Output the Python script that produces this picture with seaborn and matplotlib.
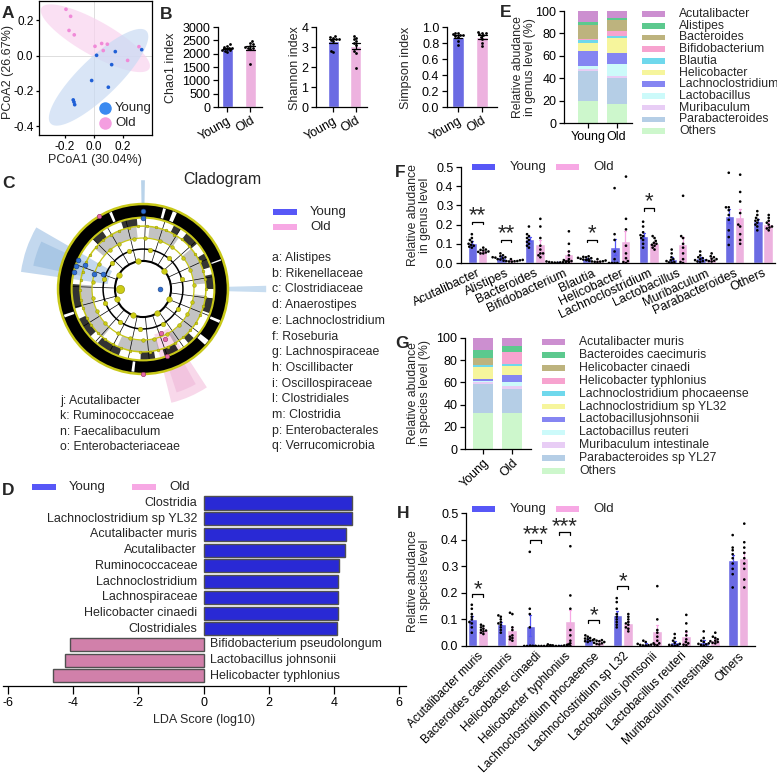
import warnings
import numpy as np
import pandas as pd
import matplotlib
matplotlib.use("Agg")
import matplotlib.pyplot as plt
from matplotlib.patches import Rectangle, Wedge, Circle
import seaborn as sns

warnings.filterwarnings("ignore")

OUT_PATH = "out.png"
W, H = 777, 779

GROUPS = ["Young", "Old"]
BAR_COLORS = ["#5757f7", "#f7a8e4"]

# A: PCoA
pcoa_young_x = [0.018, 0.147, 0.329, 0.122, -0.016, 0.099, -0.143, -0.138, -0.133]
pcoa_young_y = [0.002, 0.023, 0.034, -0.051, -0.141, -0.179, -0.251, -0.263, -0.278]
pcoa_old_x = [-0.193, -0.161, -0.172, -0.136, 0.007, 0.053, 0.092, 0.064, 0.232, 0.31]
pcoa_old_y = [0.263, 0.223, 0.143, 0.118, 0.053, 0.069, 0.065, 0.029, -0.027, 0.051]

# B: alpha diversity
chao_young = [2350, 2300, 2250, 2230, 2200, 2180, 2150, 2120, 2100, 2080]
chao_old = [2480, 2400, 2350, 2300, 2250, 2220, 2200, 2180, 1600]
shannon_young = [3.57, 3.5, 3.45, 3.4, 3.38, 3.35, 3.3, 2.8, 2.75]
shannon_old = [3.55, 3.45, 3.4, 3.3, 3.2, 3.1, 2.8, 2.7, 1.95]
simpson_young = [0.93, 0.92, 0.91, 0.9, 0.9, 0.89, 0.88, 0.82, 0.78]
simpson_old = [0.94, 0.93, 0.92, 0.91, 0.9, 0.88, 0.85, 0.8, 0.76]

# E / G: stacked composition (top of stack first)
stack_colors = ["#cc8fd0", "#5cc98e", "#bdb37e", "#f7a3cf", "#6fd8ec", "#f6f59c",
                "#8585f2", "#ccfafa", "#e8cdf5", "#b5cee6", "#cdf7cc"]
genus_stack_names = ["Acutalibacter", "Alistipes", "Bacteroides", "Bifidobacterium", "Blautia",
                     "Helicobacter", "Lachnoclostridium", "Lactobacillus", "Muribaculum",
                     "Parabacteroides", "Others"]
genus_stack_young = [9.9, 3.0, 12.5, 0.6, 2.5, 7.0, 14.0, 2.0, 2.5, 26.0, 20.0]
genus_stack_old = [5.7, 2.3, 10.0, 4.0, 1.6, 13.4, 10.0, 10.5, 2.0, 23.0, 17.3]
species_stack_names = ["Acutalibacter muris", "Bacteroides caecimuris", "Helicobacter cinaedi",
                       "Helicobacter typhlonius", "Lachnoclostridium phocaeense",
                       "Lachnoclostridium sp YL32", "Lactobacillusjohnsonii", "Lactobacillus reuteri",
                       "Muribaculum intestinale", "Parabacteroides sp YL27", "Others"]
species_stack_young = [10.2, 7.6, 6.3, 0.3, 1.8, 10.8, 1.2, 0.9, 2.4, 25.6, 32.7]
species_stack_old = [6.9, 5.7, 0.1, 10.5, 1.9, 8.6, 6.0, 3.9, 2.5, 21.9, 32.1]

# F: genus level per mouse
genus_names = ["Acutalibacter", "Alistipes", "Bacteroides", "Bifidobacterium", "Blautia",
               "Helicobacter", "Lachnoclostridium", "Lactobacillus", "Muribaculum",
               "Parabacteroides", "Others"]
genus_young = [
    [0.15, 0.13, 0.12, 0.11, 0.10, 0.095, 0.09, 0.085, 0.08],
    [0.05, 0.04, 0.035, 0.03, 0.03, 0.028, 0.025, 0.02, 0.018],
    [0.19, 0.15, 0.14, 0.13, 0.12, 0.11, 0.10, 0.09, 0.08],
    [0.01, 0.008, 0.006, 0.005, 0.004, 0.003, 0.003, 0.002, 0.002],
    [0.035, 0.032, 0.03, 0.027, 0.025, 0.022, 0.02, 0.018, 0.016],
    [0.39, 0.15, 0.12, 0.06, 0.02, 0.0, 0.0, 0.0, 0.0],
    [0.215, 0.19, 0.16, 0.145, 0.14, 0.13, 0.12, 0.10, 0.08],
    [0.07, 0.05, 0.03, 0.02, 0.015, 0.01, 0.005, 0.003, 0.002],
    [0.06, 0.04, 0.03, 0.025, 0.02, 0.015, 0.01, 0.008, 0.006],
    [0.47, 0.29, 0.29, 0.275, 0.225, 0.17, 0.135, 0.094, 0.25],
    [0.27, 0.25, 0.235, 0.225, 0.22, 0.21, 0.2, 0.19, 0.17],
]
genus_old = [
    [0.08, 0.07, 0.068, 0.065, 0.06, 0.058, 0.055, 0.05, 0.05],
    [0.02, 0.016, 0.014, 0.012, 0.01, 0.01, 0.009, 0.008, 0.007],
    [0.23, 0.19, 0.13, 0.09, 0.07, 0.05, 0.04, 0.03, 0.05],
    [0.165, 0.1, 0.06, 0.04, 0.02, 0.015, 0.01, 0.008, 0.005],
    [0.02, 0.015, 0.013, 0.011, 0.009, 0.008, 0.007, 0.006, 0.005],
    [0.45, 0.23, 0.175, 0.09, 0.05, 0.025, 0.01, 0.005, 0.0],
    [0.14, 0.13, 0.115, 0.105, 0.1, 0.095, 0.09, 0.08, 0.07],
    [0.35, 0.14, 0.13, 0.1, 0.08, 0.05, 0.02, 0.005, 0.0],
    [0.05, 0.035, 0.03, 0.022, 0.02, 0.015, 0.012, 0.01, 0.008],
    [0.46, 0.37, 0.32, 0.26, 0.2, 0.15, 0.12, 0.1, 0.19],
    [0.25, 0.235, 0.22, 0.21, 0.2, 0.19, 0.185, 0.18, 0.17],
]
genus_sig = [(0, 0.215, "**"), (1, 0.12, "**"), (4, 0.12, "*"), (6, 0.285, "*")]

# H: species level per mouse
species_names = ["Acutalibacter muris", "Bacteroides caecimuris", "Helicobacter cinaedi",
                 "Helicobacter typhlonius", "Lachnoclostridium phocaeense",
                 "Lachnoclostridium sp L32", "Lactobacillus johnsonii", "Lactobacillus reuteri",
                 "Muribaculum intestinale", "Others"]
species_young = [
    [0.155, 0.14, 0.12, 0.11, 0.1, 0.09, 0.085, 0.07, 0.05],
    [0.115, 0.11, 0.1, 0.09, 0.085, 0.08, 0.07, 0.06, 0.05],
    [0.354, 0.14, 0.12, 0.07, 0.0, 0.0, 0.0, 0.0, 0.0],
    [0.008, 0.006, 0.004, 0.003, 0.002, 0.001, 0.0, 0.0, 0.0],
    [0.04, 0.035, 0.03, 0.028, 0.025, 0.022, 0.02, 0.018, 0.015],
    [0.18, 0.165, 0.14, 0.12, 0.11, 0.1, 0.09, 0.08, 0.07],
    [0.02, 0.015, 0.01, 0.008, 0.005, 0.004, 0.003, 0.002, 0.002],
    [0.045, 0.03, 0.02, 0.012, 0.008, 0.004, 0.003, 0.002, 0.001],
    [0.055, 0.03, 0.02, 0.015, 0.01, 0.008, 0.006, 0.004, 0.002],
    [0.417, 0.37, 0.36, 0.345, 0.33, 0.31, 0.29, 0.27, 0.22],
]
species_old = [
    [0.08, 0.075, 0.07, 0.065, 0.06, 0.058, 0.055, 0.05, 0.045],
    [0.125, 0.12, 0.07, 0.06, 0.04, 0.035, 0.03, 0.025, 0.02],
    [0.002, 0.001, 0.001, 0.0, 0.0, 0.0, 0.0, 0.0, 0.0],
    [0.375, 0.19, 0.14, 0.06, 0.04, 0.02, 0.01, 0.005, 0.0],
    [0.025, 0.022, 0.02, 0.018, 0.015, 0.012, 0.01, 0.008, 0.006],
    [0.12, 0.11, 0.1, 0.09, 0.085, 0.08, 0.07, 0.065, 0.055],
    [0.225, 0.1, 0.06, 0.05, 0.035, 0.02, 0.01, 0.005, 0.003],
    [0.117, 0.085, 0.055, 0.04, 0.025, 0.015, 0.01, 0.005, 0.003],
    [0.05, 0.035, 0.03, 0.025, 0.02, 0.018, 0.015, 0.012, 0.01],
    [0.46, 0.39, 0.37, 0.35, 0.33, 0.31, 0.29, 0.25, 0.22],
]
species_sig = [(0, 0.195, "*"), (2, 0.40, "***"), (3, 0.43, "***"), (4, 0.098, "*"), (5, 0.225, "*")]

# D: LEfSe
lda_names = ["Clostridia", "Lachnoclostridium sp YL32", "Acutalibacter muris", "Acutalibacter",
             "Ruminococcaceae", "Lachnoclostridium", "Lachnospiraceae", "Helicobacter cinaedi",
             "Clostridiales", "Bifidobacterium pseudolongum", "Lactobacillus johnsonii",
             "Helicobacter typhlonius"]
lda_scores = [4.55, 4.55, 4.36, 4.33, 4.17, 4.13, 4.12, 4.12, 4.09, -4.08, -4.26, -4.62]
lda_group = ["Young"] * 9 + ["Old"] * 3

# C: cladogram
clado_right_keys = ["a: Alistipes", "b: Rikenellaceae", "c: Clostridiaceae", "d: Anaerostipes",
                    "e: Lachnoclostridium", "f: Roseburia", "g: Lachnospiraceae", "h: Oscillibacter",
                    "i: Oscillospiraceae", "l: Clostridiales", "m: Clostridia", "p: Enterobacterales",
                    "q: Verrucomicrobia"]
clado_left_keys = ["j: Acutalibacter", "k: Ruminococcaceae", "n: Faecalibaculum", "o: Enterobacteriaceae"]
clado_highlights = [(150, 172, 0.42, 1.45, "#c3d8ee"), (155, 168, 0.72, 1.32, "#a9c7e5"),
                    (-1.5, 1.5, 0.95, 1.45, "#c8ddf0"), (89, 91, 0.92, 1.28, "#b9d3ea"),
                    (-76, -57, 0.55, 1.38, "#f8d8ea"), (-72, -61, 0.78, 1.28, "#f2c4df")]
clado_band_gaps = [(66, 69), (74, 76), (112, 114), (198, 200), (262, 264), (318, 322), (336, 338), (20, 21)]
clado_dark_sectors = [(0, 12), (18, 30), (40, 52), (58, 64), (95, 108), (125, 135), (176, 196),
                      (205, 222), (230, 250), (268, 280), (288, 300), (310, 316), (340, 352)]
clado_gray_sectors = [(5, 40), (55, 84), (96, 140), (176, 230), (246, 285), (300, 354)]
clado_spokes = [10, 25, 42, 58, 72, 88, 104, 120, 135, 160, 178, 195, 212, 228, 242, 258, 275,
                290, 305, 322, 338, 352]
clado_nodes_47 = [15, 50, 80, 110, 140, 165, 200, 235, 265, 300, 330]
clado_nodes_60 = [5, 22, 38, 55, 70, 88, 100, 118, 130, 150, 172, 190, 205, 222, 240, 255, 270,
                  282, 298, 315, 330, 345]
clado_nodes_74 = [0, 9, 17, 26, 34, 43, 52, 60, 69, 78, 86, 95, 103, 112, 121, 129, 138, 147,
                  155, 164, 172, 181, 190, 198, 207, 215, 224, 233, 241, 250, 258, 267, 276, 284,
                  293, 301, 310, 319, 327, 336, 344, 353]
clado_nodes_33 = [40, 100, 150, 200, 250, 300, 340]
clado_young_nodes = [(160, 0.5), (163, 0.6), (158, 0.74), (166, 0.84), (156, 0.84), (161, 0.84),
                     (0, 0.2), (90, 0.84), (90, 0.92)]
clado_old_nodes = [(-68, 0.56), (-66, 0.64), (-70, 0.84), (121, 1.0), (-90, 1.0)]

sns.set_style("ticks")
plt.rcParams["font.family"] = ["Liberation Sans", "DejaVu Sans"]
plt.rcParams["axes.unicode_minus"] = False
plt.rcParams["axes.linewidth"] = 0.9
plt.rcParams["xtick.major.width"] = 0.9
plt.rcParams["ytick.major.width"] = 0.9
plt.rcParams["xtick.labelsize"] = 8.5
plt.rcParams["ytick.labelsize"] = 8.5
plt.rcParams["xtick.major.size"] = 3.5
plt.rcParams["ytick.major.size"] = 3.5
plt.rcParams["xtick.major.pad"] = 2
plt.rcParams["ytick.major.pad"] = 2
plt.rcParams["axes.edgecolor"] = "black"
plt.rcParams["xtick.color"] = "black"
plt.rcParams["ytick.color"] = "black"

fig = plt.figure(figsize=(W / 100, H / 100), dpi=100)


def add_ax(x0, y0, x1, y1):
    return fig.add_axes([x0 / W, 1 - y1 / H, (x1 - x0) / W, (y1 - y0) / H])


def long_df(names, young_pts, old_pts):
    rows = []
    for name, yv, ov in zip(names, young_pts, old_pts):
        rows += [(name, "Young", v) for v in yv]
        rows += [(name, "Old", v) for v in ov]
    return pd.DataFrame(rows, columns=["taxon", "group", "value"])


def conf_ellipse(x, y, k=2.15, n=160):
    pts = np.column_stack([x, y])
    mu = pts.mean(axis=0)
    vals, vecs = np.linalg.eigh(np.cov(pts.T))
    t = np.linspace(0, 2 * np.pi, n)
    circ = np.vstack([np.cos(t), np.sin(t)])
    return (vecs @ (np.sqrt(vals)[:, None] * k * circ)).T + mu


# ---------------- A
axA = add_ax(39, 1, 152, 135)
for xs, ys, c in [(pcoa_old_x, pcoa_old_y, "#f9d3ef"), (pcoa_young_x, pcoa_young_y, "#c9dbf3")]:
    e = conf_ellipse(xs, ys)
    axA.fill(e[:, 0], e[:, 1], color=c, alpha=0.7, lw=0, zorder=1)
axA.axhline(0, color="#d8d8d8", lw=0.6, zorder=0)
axA.axvline(0, color="#d8d8d8", lw=0.6, zorder=0)
dfA = pd.DataFrame({"x": pcoa_young_x + pcoa_old_x, "y": pcoa_young_y + pcoa_old_y,
                    "group": ["Young"] * len(pcoa_young_x) + ["Old"] * len(pcoa_old_x)})
sns.scatterplot(data=dfA, x="x", y="y", hue="group", palette=["#1f5fd6", "#f08ad8"],
                s=7, linewidth=0, legend=False, ax=axA, zorder=3)
axA.set_xlim(-0.379, 0.4)
axA.set_ylim(-0.45, 0.31)
axA.set_xticks([-0.2, 0.0, 0.2])
axA.set_yticks([-0.4, -0.2, 0.0, 0.2])
axA.set_xticklabels(["-0.2", "0.0", "0.2"])
axA.set_yticklabels(["-0.4", "-0.2", "0.0", "0.2"])
axA.tick_params(labelsize=8.5, length=2.5, pad=1.5)
axA.set_xlabel("")
axA.set_ylabel("")

# ---------------- B
b_specs = [
    ((218, 27, 262, 107), chao_young, chao_old, (0, 3000), [0, 500, 1000, 1500, 2000, 2500, 3000],
     (-0.41, 1.5), "{:.0f}"),
    ((316, 27, 367, 107), shannon_young, shannon_old, (0, 4), [0, 1, 2, 3, 4], (-0.77, 1.5), "{:.0f}"),
    ((447, 27, 497, 107), simpson_young, simpson_old, (0, 1.0), [0, 0.2, 0.4, 0.6, 0.8, 1.0],
     (-0.45, 1.6), "{:.1f}"),
]
for rect, yv, ov, ylim, yt, xlim, fmt in b_specs:
    ax = add_ax(*rect)
    dfB = pd.DataFrame({"group": ["Young"] * len(yv) + ["Old"] * len(ov), "value": yv + ov})
    sns.barplot(data=dfB, x="group", y="value", hue="group", order=GROUPS, hue_order=GROUPS,
                palette=BAR_COLORS, errorbar="se", capsize=0.35, width=0.5,
                err_kws={"color": "black", "linewidth": 0.9}, ax=ax, legend=False)
    sns.swarmplot(data=dfB, x="group", y="value", order=GROUPS, color="black", size=2.0, ax=ax)
    ax.set_ylim(*ylim)
    ax.set_yticks(yt)
    ax.set_yticklabels([fmt.format(v) for v in yt])
    ax.set_xlim(*xlim)
    ax.set_xticks([0, 1])
    ax.set_xticklabels(GROUPS, rotation=30, ha="right", rotation_mode="anchor")
    ax.tick_params(labelsize=9)
    ax.set_xlabel("")
    ax.set_ylabel("")
    sns.despine(ax=ax)


# ---------------- E, G stacked
def stacked(rect, names, young, old, ylim_top, yt, rot):
    ax = add_ax(*rect)
    comp = pd.DataFrame({"Young": young, "Old": old}, index=names)
    bottom = np.zeros(2)
    for name, col in zip(reversed(names), reversed(stack_colors)):
        vals = comp.loc[name, GROUPS].to_numpy(dtype=float)
        ax.bar([0, 1], vals, bottom=bottom, width=0.7, color=col, lw=0)
        bottom += vals
    ax.set_ylim(0, ylim_top)
    ax.set_yticks(yt)
    ax.set_xticks([0, 1])
    if rot:
        ax.set_xticklabels(GROUPS, rotation=45, ha="right", rotation_mode="anchor")
    else:
        ax.set_xticklabels(GROUPS)
    ax.tick_params(labelsize=9)
    sns.despine(ax=ax)
    return ax


axE = stacked((564, 11, 632, 123), genus_stack_names, genus_stack_young, genus_stack_old,
              100, [0, 20, 40, 60, 80, 100], False)
axE.set_xlim(-0.84, 1.54)
axG = stacked((465, 338, 531, 449), species_stack_names, species_stack_young, species_stack_old,
              100, [0, 20, 40, 60, 80, 100], True)
axG.set_xlim(-0.63, 1.68)


# ---------------- F, H grouped bars
def grouped(rect, names, young, old, xlim, sig, rot, xlabsize):
    ax = add_ax(*rect)
    df = long_df(names, young, old)
    sns.barplot(data=df, x="taxon", y="value", hue="group", order=names, hue_order=GROUPS,
                palette=BAR_COLORS, errorbar="se", capsize=0.15, width=0.72, gap=0.08,
                err_kws={"linewidth": 0.9}, ax=ax, legend=False)
    n = len(names)
    for i, ln in enumerate(ax.lines):
        ln.set_color(BAR_COLORS[min(i // n, 1)])
    sns.swarmplot(data=df, x="taxon", y="value", hue="group", order=names, hue_order=GROUPS,
                  palette=["black", "black"], dodge=True, size=1.9, ax=ax, legend=False)
    for idx, yb, stars in sig:
        x0, x1 = idx - 0.18, idx + 0.18
        ax.plot([x0, x0, x1, x1], [yb - 0.012, yb, yb, yb - 0.012], color="black", lw=0.9)
        ax.text(idx, yb - 0.022, stars, ha="center", va="bottom", fontsize=16)
    ax.set_ylim(0, 0.5)
    ax.set_yticks([0, 0.1, 0.2, 0.3, 0.4, 0.5])
    ax.set_yticklabels(["0.0", "0.1", "0.2", "0.3", "0.4", "0.5"])
    ax.set_xlim(*xlim)
    ax.set_xticks(range(n))
    ax.set_xticklabels(names, rotation=rot, ha="right", rotation_mode="anchor")
    ax.tick_params(axis="y", labelsize=9)
    ax.tick_params(axis="x", length=0, pad=3, labelsize=xlabsize)
    ax.set_xlabel("")
    ax.set_ylabel("")
    sns.despine(ax=ax)
    return ax


axF = grouped((461, 167, 775, 263), genus_names, genus_young, genus_old, (-0.58, 10.42),
              genus_sig, 25, 9)
axH = grouped((466, 513, 755, 646), species_names, species_young, species_old, (-0.4, 9.57),
              species_sig, 45, 8.6)

# ---------------- D LDA
axD = add_ax(3, 495, 406, 686)
sns.barplot(x=lda_scores, y=lda_names, hue=lda_group, palette={"Young": "#0c0cf2", "Old": "#df72ab"},
            edgecolor="#505050", linewidth=1.0, width=0.83, dodge=False, orient="h",
            ax=axD, legend=False)
axD.set_xlim(-6.15, 6.21)
axD.set_ylim(11.64, -0.51)
axD.set_xticks([-6, -4, -2, 0, 2, 4, 6])
axD.set_yticks([])
axD.tick_params(axis="x", length=6, labelsize=9)
for i, (name, sc) in enumerate(zip(lda_names, lda_scores)):
    if sc > 0:
        axD.text(-0.2, i, name, ha="right", va="center", fontsize=9)
    else:
        axD.text(0.2, i, name, ha="left", va="center", fontsize=9)
for s in ["left", "right", "top"]:
    axD.spines[s].set_visible(False)

# ---------------- C cladogram
axC = add_ax(13, 159, 273, 419)
axC.set_xlim(-1.53, 1.53)
axC.set_ylim(-1.53, 1.53)
axC.set_aspect("equal")
axC.axis("off")


def pol(a, r):
    return r * np.cos(np.radians(a)), r * np.sin(np.radians(a))


for a0, a1, r0, r1, c in clado_highlights:
    axC.add_patch(Wedge((0, 0), r1, a0, a1, width=r1 - r0, color=c, lw=0, zorder=0))
axC.add_patch(Wedge((0, 0), 1.0, 0, 360, width=0.16, color="black", lw=0, zorder=1))
for a0, a1 in clado_band_gaps:
    axC.add_patch(Wedge((0, 0), 0.98, a0, a1, width=0.12, color="white", lw=0, zorder=1.5))
for a0, a1 in clado_dark_sectors:
    axC.add_patch(Wedge((0, 0), 0.84, a0, a1, width=0.10, color="black", alpha=0.8, lw=0, zorder=1))
for a0, a1 in clado_gray_sectors:
    axC.add_patch(Wedge((0, 0), 0.74, a0, a1, width=0.14, color="#555555", alpha=0.35, lw=0, zorder=1))
for a in clado_spokes:
    xa, ya = pol(a, 0.33)
    xb, yb = pol(a, 0.84)
    axC.plot([xa, xb], [ya, yb], color="black", lw=0.5, zorder=2)
for r, lw in [(0.33, 1.5), (0.47, 1.1)]:
    axC.add_patch(Circle((0, 0), r, fill=False, ec="black", lw=lw, zorder=2))
for r, lw in [(1.0, 1.8), (0.84, 1.5), (0.74, 1.1), (0.60, 0.9)]:
    axC.add_patch(Circle((0, 0), r, fill=False, ec="#c8c818", lw=lw, zorder=3))
for angles, r, s in [(clado_nodes_33, 0.33, 16), (clado_nodes_47, 0.47, 11),
                     (clado_nodes_60, 0.60, 7), (clado_nodes_74, 0.74, 4)]:
    xs, ys = pol(np.array(angles), r)
    axC.scatter(xs, ys, s=s, c="#cccc14", edgecolors="#8c8c00", linewidths=0.3, zorder=4)
axC.scatter(*pol(180, 0.27), s=35, c="#cccc14", edgecolors="#8c8c00", linewidths=0.4, zorder=4)
ya_ = np.array(clado_young_nodes)
axC.scatter(*pol(ya_[:, 0], ya_[:, 1]), s=12, c="#2f6fd0", edgecolors="#1a3f80", linewidths=0.4, zorder=5)
oa_ = np.array(clado_old_nodes)
axC.scatter(*pol(oa_[:, 0], oa_[:, 1]), s=10, c="#e66aa8", edgecolors="#903060", linewidths=0.4, zorder=5)

# ---------------- overlay for labels / legends
ov = fig.add_axes([0, 0, 1, 1])
ov.set_xlim(0, W)
ov.set_ylim(H, 0)
ov.axis("off")
ov.set_zorder(10)
ov.patch.set_alpha(0)


def ftext(x, y, s, **kw):
    kw.setdefault("fontsize", 8.8)
    ov.text(x, y, s, **kw)


# panel letters
for x, y, s in [(2, 13, "A"), (160, 14, "B"), (500, 12, "E"), (2, 183, "C"), (395, 172, "F"),
                (395, 343, "G"), (2, 490, "D"), (397, 514, "H")]:
    ftext(x, y, s, fontsize=12.5, fontweight="bold", va="center", ha="left")

# axis labels
ftext(8, 72, "PCoA2 (26.67%)", rotation=90, ha="center", va="center", fontsize=9)
ftext(95, 160, "PCoA1 (30.04%)", ha="center", va="center", fontsize=9)
ftext(171, 68, "Chao1 index", rotation=90, ha="center", va="center", fontsize=9)
ftext(295, 68, "Shannon index", rotation=90, ha="center", va="center", fontsize=9)
ftext(406, 68, "Simpson index", rotation=90, ha="center", va="center", fontsize=9)
ftext(524, 67, "Relative abudance\nin genus level (%)", rotation=90, ha="center", va="center",
      linespacing=1.0)
ftext(419, 215, "Relative abudance\nin genus level", rotation=90, ha="center", va="center", linespacing=1.0)
ftext(419, 393, "Relative abudance\nin species level (%)", rotation=90, ha="center", va="center",
      linespacing=1.0)
ftext(419, 581, "Relative abudance\nin species level", rotation=90, ha="center", va="center",
      linespacing=1.0)
ftext(204, 720, "LDA Score (log10)", ha="center", va="center", fontsize=9)

# PCoA legend
ov.plot([105], [108], "o", ms=9, color="#3b8af0", mec="none")
ov.plot([105], [123], "o", ms=9, color="#f49ee0", mec="none")
ftext(115, 108, "Young", va="center", fontsize=9.5)
ftext(115, 123, "Old", va="center", fontsize=9.5)

# stacked legends
for i, (name, col) in enumerate(zip(genus_stack_names, stack_colors)):
    y = 14 + i * 11.7
    ov.add_patch(Rectangle((642, y - 2.8), 23, 5.6, color=col, lw=0))
    ftext(679, y, name, va="center")
for i, (name, col) in enumerate(zip(species_stack_names, stack_colors)):
    y = 342 + i * 12.9
    ov.add_patch(Rectangle((542, y - 2.8), 23, 5.6, color=col, lw=0))
    ftext(579, y, name, va="center")

# group legends (F, H, C, D)
for y in [167, 509]:
    ov.add_patch(Rectangle((472, y - 3), 23, 6, color=BAR_COLORS[0], lw=0))
    ftext(510, y, "Young", va="center", fontsize=9.5)
    ov.add_patch(Rectangle((556, y - 3), 23, 6, color=BAR_COLORS[1], lw=0))
    ftext(593, y, "Old", va="center", fontsize=9.5)
ov.add_patch(Rectangle((273, 209), 24, 6, color=BAR_COLORS[0], lw=0))
ov.add_patch(Rectangle((273, 224), 24, 6, color=BAR_COLORS[1], lw=0))
ftext(310, 212, "Young", va="center", fontsize=9.5)
ftext(310, 227, "Old", va="center", fontsize=9.5)
ov.add_patch(Rectangle((32, 484), 24, 6, color=BAR_COLORS[0], lw=0))
ov.add_patch(Rectangle((132, 484), 24, 6, color=BAR_COLORS[1], lw=0))
ftext(69, 487, "Young", va="center", fontsize=9.5)
ftext(169, 487, "Old", va="center", fontsize=9.5)

# cladogram text
ftext(222, 179, "Cladogram", ha="center", va="center", fontsize=11.5)
for i, s in enumerate(clado_right_keys):
    ftext(272, 258 + i * 15.7, s, va="center")
for i, s in enumerate(clado_left_keys):
    ftext(60, 401 + i * 15.4, s, va="center")

fig.savefig(OUT_PATH, dpi=100)
